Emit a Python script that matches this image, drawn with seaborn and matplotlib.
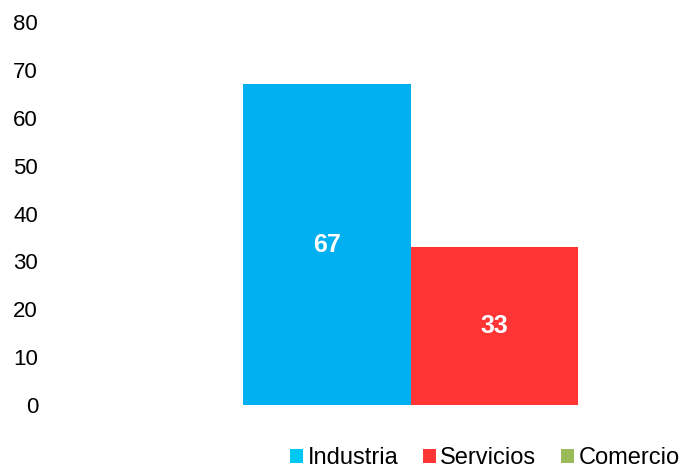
import matplotlib
matplotlib.use("Agg")
import matplotlib.pyplot as plt
from matplotlib.patches import Patch
import pandas as pd
import seaborn as sns

# Data
sectors = ["Industria", "Servicios", "Comercio"]
shares = [67, 33, 0]
group = [""] * len(sectors)
colors = ["#00B0F0", "#FF3535", "#9BBB59"]
legend_colors = ["#00C8F4", "#FF3535", "#9BBB59"]
y_ticks = [0, 10, 20, 30, 40, 50, 60, 70, 80]

sns.set_theme(style="white")
plt.rcParams["font.family"] = ["Liberation Sans", "DejaVu Sans"]
plt.rcParams["text.color"] = "black"

df = pd.DataFrame({"grupo": group, "sector": sectors, "valor": shares})

W, H = 681, 469
fig = plt.figure(figsize=(W / 100, H / 100), dpi=100)
ax = fig.add_axes([54 / W, (H - 405) / H, (W - 54) / W, (405 - 22) / H])

sns.barplot(data=df, x="grupo", y="valor", hue="sector", hue_order=sectors,
            palette=dict(zip(sectors, colors)), width=1.0, dodge=True,
            saturation=1, linewidth=0, ax=ax, legend=False)

for cont, v in zip(ax.containers, shares):
    ax.bar_label(cont, labels=[f"{v:g}" if v else ""], label_type="center",
                 color="white", fontsize=18, fontweight="bold")

ax.set_ylim(0, 80)
ax.set_yticks(y_ticks)
ax.set_xlim(-0.877, 0.372)
ax.set_xticks([])
ax.set_xlabel("")
ax.set_ylabel("")
ax.tick_params(axis="y", length=0, pad=11.5, labelsize=16, labelcolor="black")
for s in ax.spines.values():
    s.set_visible(False)

handles = [Patch(facecolor=c, edgecolor="none") for c in legend_colors]
leg = fig.legend(handles, sectors, loc="lower right",
                 bbox_to_anchor=(0.998, 0.0), ncol=3, frameon=False,
                 fontsize=17, handlelength=0.55, handleheight=0.55,
                 handletextpad=0.18, columnspacing=1.05,
                 borderaxespad=0.0, borderpad=0.0)
for t in leg.get_texts():
    t.set_color("black")

fig.savefig("out.png", dpi=100, facecolor="white")
